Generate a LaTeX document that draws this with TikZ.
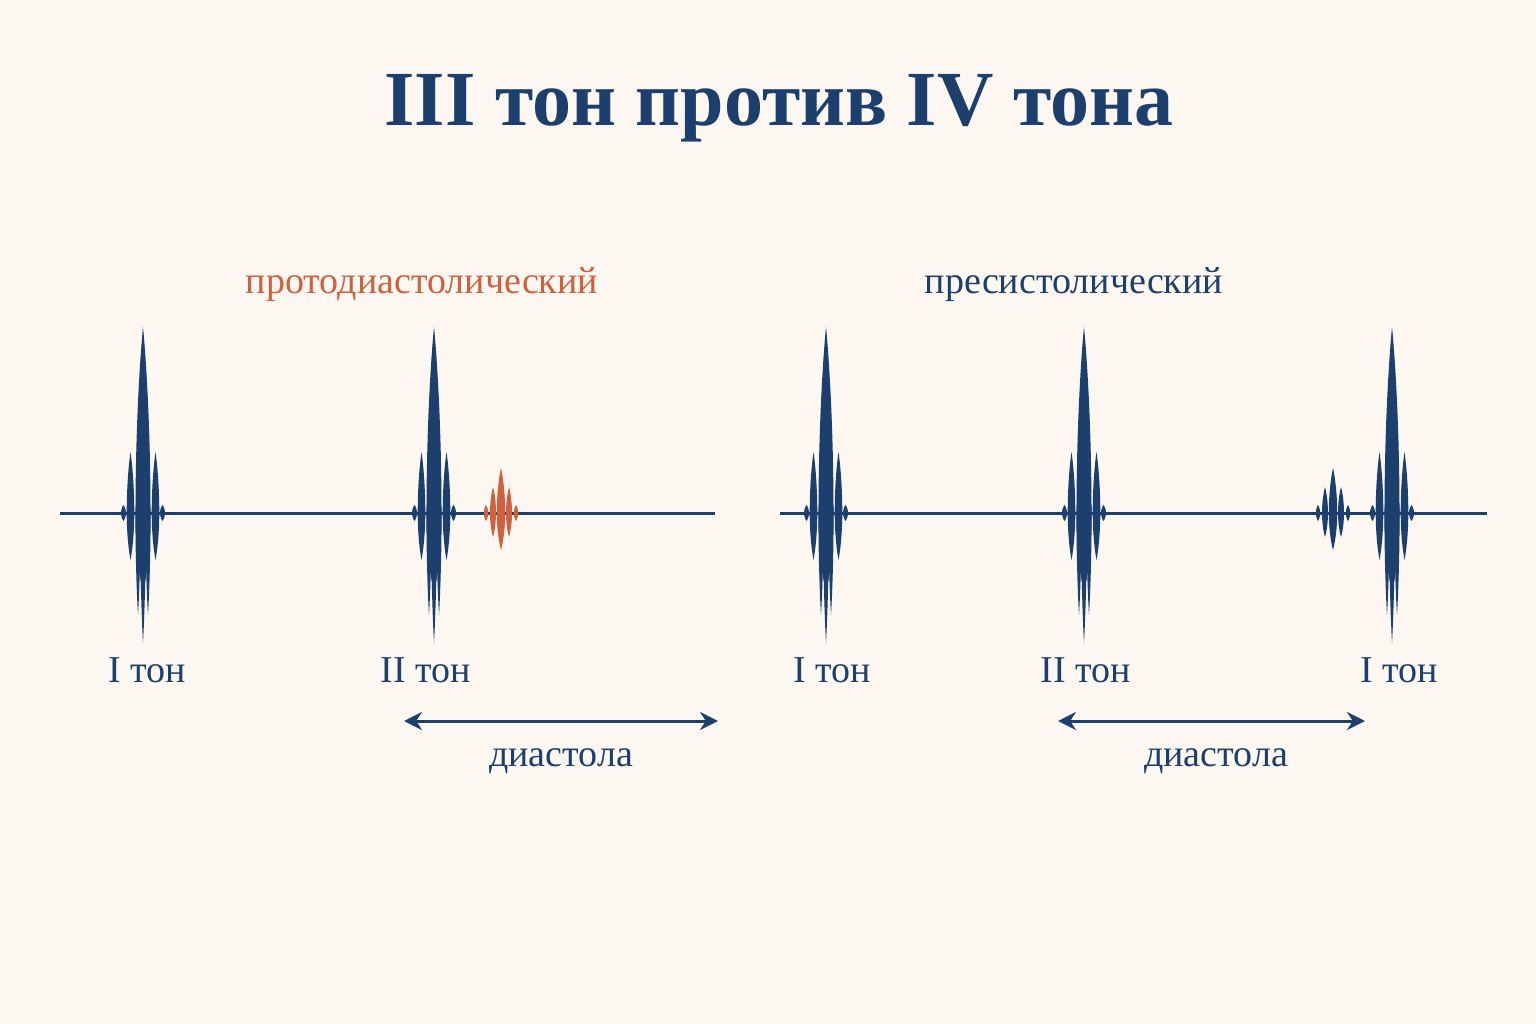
\documentclass[tikz,border=0pt]{standalone}
\usepackage{fontspec}
\setmainfont{Liberation Serif}
\usepackage{tikz}
\usetikzlibrary{arrows.meta}

\definecolor{ink}{HTML}{1D3F6E}
\definecolor{rust}{HTML}{D0603E}
\definecolor{paper}{HTML}{FCF8F1}

\tikzset{
  title/.style={font=\fontsize{78}{86}\selectfont\bfseries, text=ink},
  tonlbl/.style={font=\fontsize{38}{44}\selectfont, text=ink},
  sublbl/.style={font=\fontsize{38}{44}\selectfont},
  axis/.style={draw=ink, line width=3pt},
  span/.style={draw=ink, line width=3pt, {Stealth[length=18pt,width=18pt]}-{Stealth[length=18pt,width=18pt]}}
}

% one needle of a sound burst: x, half width, height up, depth down
\newcommand{\spike}[4]{%
  \fill (#1-#2,513) .. controls (#1-#2,513-0.5*#3) and (#1-0.3*#2,513-0.88*#3) .. (#1,513-#3)
    .. controls (#1+0.3*#2,513-0.88*#3) and (#1+#2,513-0.5*#3) .. (#1+#2,513)
    .. controls (#1+#2,513+0.5*#4) and (#1+0.3*#2,513+0.88*#4) .. (#1,513+#4)
    .. controls (#1-0.3*#2,513+0.88*#4) and (#1-#2,513+0.5*#4) .. cycle;}

% I and II tone
\newcommand{\mainburst}[1]{%
  \begin{scope}[fill=ink]
  \spike{#1-19.5}{2.5}{8}{8}
  \spike{#1+19.5}{2.5}{8}{8}
  \spike{#1-12.5}{3.8}{61}{47}
  \spike{#1+12.5}{3.8}{61}{47}
  \spike{#1}{7.5}{186}{80}
  \spike{#1-5}{2.6}{20}{102}
  \spike{#1+5}{2.6}{20}{102}
  \spike{#1}{3}{60}{130}
  \end{scope}}

% III and IV tone
\newcommand{\smallburst}[2]{%
  \begin{scope}[fill=#2]
  \spike{#1-15}{2.2}{8}{8}
  \spike{#1+15}{2.2}{8}{8}
  \spike{#1-8}{3}{26}{24}
  \spike{#1+8}{3}{26}{24}
  \spike{#1}{4.2}{45}{37}
  \end{scope}}

\begin{document}
\begin{tikzpicture}[x=1pt,y=-1pt]
  \fill[paper] (0,0) rectangle (1536,1024);
  \useasboundingbox (0,0) rectangle (1536,1024);

  \node[title] (head) at (779,108) {III тон против IV тона};

  % left: protodiastolic
  \node[sublbl, text=rust] (proto) at (422,285) {протодиастолический};
  \coordinate (la) at (60,513);
  \coordinate (lb) at (715,513);
  \draw[axis] (la) -- (lb);
  \mainburst{143}
  \mainburst{434}
  \smallburst{501}{rust}
  \node[tonlbl] (l1) at (147,670) {I тон};
  \node[tonlbl] (l2) at (426,670) {II тон};
  \coordinate (ld1) at (404,721);
  \coordinate (ld2) at (718,721);
  \draw[span] (ld1) -- (ld2);
  \node[tonlbl] (ldia) at (561,761) {диастола};

  % right: presystolic
  \node[sublbl, text=ink] (pres) at (1074,285) {пресистолический};
  \coordinate (ra) at (780,513);
  \coordinate (rb) at (1487,513);
  \draw[axis] (ra) -- (rb);
  \mainburst{826}
  \mainburst{1084}
  \smallburst{1333}{ink}
  \mainburst{1392}
  \node[tonlbl] (r1) at (832,670) {I тон};
  \node[tonlbl] (r2) at (1086,670) {II тон};
  \node[tonlbl] (r3) at (1399,670) {I тон};
  \coordinate (rd1) at (1058,721);
  \coordinate (rd2) at (1365,721);
  \draw[span] (rd1) -- (rd2);
  \node[tonlbl] (rdia) at (1216,761) {диастола};
\end{tikzpicture}
\end{document}
